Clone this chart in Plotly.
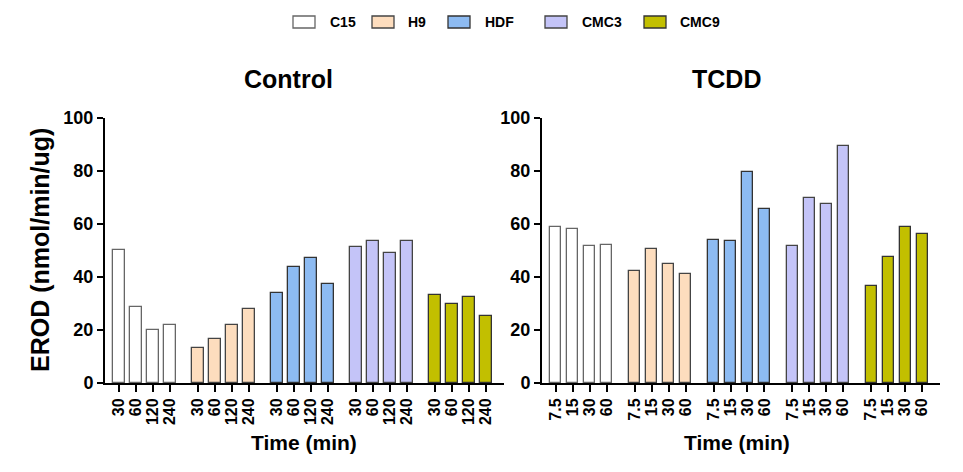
import plotly.graph_objects as go

cells = ["C15", "H9", "HDF", "CMC3", "CMC9"]
colors = ["#FFFFFF", "#FDDDBE", "#8DBBF2", "#C4C4F8", "#C2BF00"]
outlines = ["#666666", "#444444", "#333333", "#444444", "#333333"]

ctrl_times = ["30", "60", "120", "240"]
tcdd_times = ["7.5", "15", "30", "60"]

ctrl_vals = {
    "C15": [50.1, 28.8, 19.9, 21.9],
    "H9": [13.1, 16.6, 21.8, 28.1],
    "HDF": [33.8, 43.6, 47.3, 37.4],
    "CMC3": [51.4, 53.7, 49.1, 53.7],
    "CMC9": [33.1, 29.8, 32.5, 25.2],
}
tcdd_vals = {
    "C15": [58.9, 58.0, 51.8, 52.1],
    "H9": [42.1, 50.6, 44.9, 41.3],
    "HDF": [54.1, 53.6, 79.6, 65.5],
    "CMC3": [51.8, 69.8, 67.5, 89.6],
    "CMC9": [36.5, 47.7, 58.9, 56.4],
}

FONT = "Arial, Liberation Sans, sans-serif"
W, H = 963, 472
L, R, T, B = 105, 940, 118, 383   # plot area in pixels
PW, PH = R - L, B - T
GROUP_STEP = 79 / 17.0


def px(x):
    return (x - L) / PW


def py(y):
    return (B - y) / PH


fig = go.Figure()


def positions(g):
    return [g * GROUP_STEP + i for i in range(4)]


for g, cell in enumerate(cells):
    for vals, xa, ya in [(ctrl_vals, "x", "y"), (tcdd_vals, "x2", "y2")]:
        fig.add_trace(go.Bar(
            x=positions(g), y=vals[cell], width=0.65,
            marker=dict(color=colors[g], line=dict(color=outlines[g], width=1.3)),
            name=cell, showlegend=False,
            xaxis=xa, yaxis=ya,
        ))


def tickinfo(times):
    vals, text = [], []
    for g in range(len(cells)):
        vals += positions(g)
        text += times
    return vals, text


tv1, tt1 = tickinfo(ctrl_times)
tv2, tt2 = tickinfo(tcdd_times)

xrange_ = [-14 / 17.0, 4 * GROUP_STEP + 3 + 18 / 17.0]

xcommon = dict(range=xrange_, showline=True, linecolor="black", linewidth=2,
               ticks="outside", ticklen=7, tickwidth=2, tickcolor="black",
               tickangle=-90, tickfont=dict(family=FONT, size=16, color="black", weight="bold"),
               showgrid=False, zeroline=False)
ycommon = dict(range=[0, 100], tickvals=[0, 20, 40, 60, 80, 100],
               showline=True, linecolor="black", linewidth=2,
               ticks="outside", ticklen=6, tickwidth=2, tickcolor="black",
               tickfont=dict(family=FONT, size=18, color="black", weight="bold"),
               showgrid=False, zeroline=False, domain=[0, 1])

# legend drawn as boxes + labels
legend_box_x = [293, 372, 448, 545, 644]
legend_text_x = [328, 406, 483, 580, 678]
shapes = []
annotations = []
for i, cell in enumerate(cells):
    shapes.append(dict(type="rect", xref="paper", yref="paper",
                       x0=px(legend_box_x[i]), x1=px(legend_box_x[i] + 22),
                       y0=py(28), y1=py(16),
                       fillcolor=colors[i], line=dict(color=outlines[i], width=1.3)))
    annotations.append(dict(text="<b>%s</b>" % cell, x=px(legend_text_x[i]), y=py(22),
                            xref="paper", yref="paper", xanchor="left", yanchor="middle",
                            showarrow=False, font=dict(family=FONT, size=14, color="black")))


def label(text, x, y, size, angle=0):
    return dict(text="<b>%s</b>" % text, x=px(x), y=py(y), xref="paper", yref="paper",
                xanchor="center", yanchor="middle", textangle=angle,
                showarrow=False, font=dict(family=FONT, size=size, color="black"))


annotations += [
    label("Control", 288, 79, 25),
    label("TCDD", 726, 79, 25),
    label("EROD (nmol/min/ug)", 40, 250, 25, -90),
    label("Time (min)", 304, 442, 21),
    label("Time (min)", 737, 442, 21),
]

fig.update_layout(
    width=W, height=H,
    margin=dict(l=L, r=W - R, t=T, b=H - B, autoexpand=False),
    paper_bgcolor="white", plot_bgcolor="white",
    showlegend=False,
    bargap=0,
    xaxis=dict(xcommon, domain=[0, px(504)], tickvals=tv1, ticktext=tt1, anchor="y"),
    yaxis=dict(ycommon, anchor="x"),
    xaxis2=dict(xcommon, domain=[px(542), 1], tickvals=tv2, ticktext=tt2, anchor="y2"),
    yaxis2=dict(ycommon, anchor="x2"),
    shapes=shapes,
    annotations=annotations,
)

fig.write_html("out.html", config={"displayModeBar": False},
               post_script="document.body.style.margin='0';document.body.style.overflow='hidden';")
